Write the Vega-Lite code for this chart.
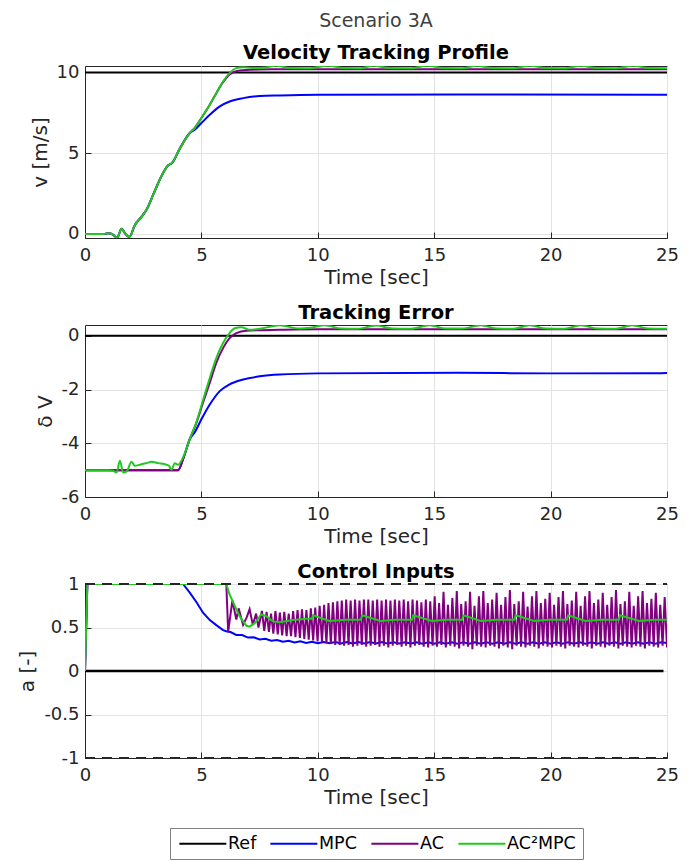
{
"$schema": "https://vega.github.io/schema/vega-lite/v6.json",
"padding": {"left": 17, "top": 12, "right": 5, "bottom": 0},
"background": "white",
"title": {"text": "Scenario 3A", "fontSize": 19, "fontWeight": "normal", "color": "#404040", "anchor": "middle", "frame": "group", "offset": 11},
"spacing": 87,
"bounds": "flush",
"resolve": {"scale": {"color": "independent"}, "legend": {"color": "independent"}},
"datasets": {
"p1_ref": [{"t":0,"y":10},{"t":25,"y":10}],
"p1_mpc": [{"t":0,"y":0},{"t":0.8,"y":0},{"t":1.0,"y":0.04},{"t":1.2,"y":-0.04},{"t":1.38,"y":-0.25},{"t":1.57,"y":0.33},{"t":1.71,"y":0.06},{"t":1.9,"y":-0.19},{"t":2.14,"y":0.54},{"t":2.5,"y":1.2},{"t":2.64,"y":1.5},{"t":2.93,"y":2.43},{"t":3.21,"y":3.36},{"t":3.53,"y":4.19},{"t":3.76,"y":4.43},{"t":4.07,"y":5.28},{"t":4.5,"y":6.25},{"t":4.71,"y":6.45},{"t":5.0,"y":6.87},{"t":5.36,"y":7.38},{"t":5.79,"y":7.9},{"t":6.21,"y":8.2},{"t":6.79,"y":8.41},{"t":7.5,"y":8.54},{"t":8.36,"y":8.58},{"t":10,"y":8.62},{"t":16,"y":8.63},{"t":25,"y":8.62}],
"p1_ac": [{"t":0,"y":0},{"t":0.8,"y":0},{"t":1.0,"y":0.04},{"t":1.2,"y":-0.04},{"t":1.38,"y":-0.25},{"t":1.57,"y":0.33},{"t":1.71,"y":0.06},{"t":1.9,"y":-0.19},{"t":2.14,"y":0.54},{"t":2.5,"y":1.2},{"t":2.64,"y":1.5},{"t":2.93,"y":2.43},{"t":3.21,"y":3.36},{"t":3.53,"y":4.19},{"t":3.76,"y":4.43},{"t":4.07,"y":5.28},{"t":4.5,"y":6.25},{"t":4.71,"y":6.56},{"t":5.0,"y":7.18},{"t":5.36,"y":8.0},{"t":5.64,"y":8.72},{"t":5.93,"y":9.4},{"t":6.21,"y":9.88},{"t":6.5,"y":10.08},{"t":6.79,"y":10.14},{"t":7.2,"y":10.17},{"t":8,"y":10.2},{"t":25,"y":10.2}],
"p1_acm": [{"t":0,"y":0},{"t":0.8,"y":0},{"t":1.0,"y":0.04},{"t":1.2,"y":-0.04},{"t":1.38,"y":-0.25},{"t":1.57,"y":0.33},{"t":1.71,"y":0.06},{"t":1.9,"y":-0.19},{"t":2.14,"y":0.54},{"t":2.5,"y":1.2},{"t":2.64,"y":1.5},{"t":2.93,"y":2.43},{"t":3.21,"y":3.36},{"t":3.53,"y":4.19},{"t":3.76,"y":4.43},{"t":4.07,"y":5.28},{"t":4.5,"y":6.25},{"t":4.71,"y":6.56},{"t":5.0,"y":7.18},{"t":5.36,"y":8.0},{"t":5.64,"y":8.72},{"t":5.93,"y":9.44},{"t":6.21,"y":9.96},{"t":6.5,"y":10.27},{"t":6.79,"y":10.33},{"t":7.21,"y":10.27},{"t":7.79,"y":10.31},{"t":8.2,"y":10.42},{"t":8.8,"y":10.27},{"t":9.6,"y":10.26},{"t":10.45,"y":10.42},{"t":11.1,"y":10.27},{"t":11.8,"y":10.26},{"t":12.4,"y":10.41},{"t":13.1,"y":10.27},{"t":14.0,"y":10.26},{"t":14.7,"y":10.42},{"t":15.4,"y":10.27},{"t":16.2,"y":10.26},{"t":16.85,"y":10.41},{"t":17.5,"y":10.27},{"t":18.4,"y":10.26},{"t":19.1,"y":10.42},{"t":19.8,"y":10.27},{"t":20.6,"y":10.26},{"t":21.3,"y":10.41},{"t":22.0,"y":10.27},{"t":22.8,"y":10.26},{"t":23.55,"y":10.42},{"t":24.2,"y":10.27},{"t":25,"y":10.26}],
"p2_ref": [{"t":0,"y":0},{"t":25,"y":0}],
"p2_mpc": [{"t":0,"y":-5},{"t":4.0,"y":-5},{"t":4.21,"y":-4.6},{"t":4.5,"y":-3.85},{"t":4.71,"y":-3.6},{"t":5.0,"y":-3.11},{"t":5.36,"y":-2.56},{"t":5.79,"y":-2.06},{"t":6.21,"y":-1.81},{"t":6.79,"y":-1.63},{"t":7.5,"y":-1.51},{"t":8.36,"y":-1.44},{"t":10,"y":-1.4},{"t":16,"y":-1.38},{"t":20,"y":-1.4},{"t":25,"y":-1.39}],
"p2_ac": [{"t":0,"y":-5},{"t":4.0,"y":-5},{"t":4.21,"y":-4.6},{"t":4.5,"y":-3.85},{"t":4.79,"y":-3.23},{"t":5.07,"y":-2.49},{"t":5.36,"y":-1.75},{"t":5.64,"y":-1.01},{"t":5.93,"y":-0.46},{"t":6.21,"y":-0.09},{"t":6.5,"y":0.1},{"t":6.93,"y":0.19},{"t":8.36,"y":0.22},{"t":10,"y":0.24},{"t":25,"y":0.24}],
"p2_acm": [{"t":0,"y":-5},{"t":1.0,"y":-5},{"t":1.2,"y":-5.02},{"t":1.36,"y":-5.09},{"t":1.5,"y":-4.65},{"t":1.64,"y":-5.09},{"t":1.79,"y":-5.05},{"t":2.0,"y":-4.69},{"t":2.14,"y":-4.84},{"t":2.36,"y":-4.8},{"t":2.64,"y":-4.74},{"t":2.86,"y":-4.69},{"t":3.14,"y":-4.74},{"t":3.43,"y":-4.78},{"t":3.61,"y":-4.84},{"t":3.71,"y":-4.99},{"t":3.86,"y":-4.74},{"t":4.0,"y":-4.8},{"t":4.21,"y":-4.53},{"t":4.5,"y":-3.85},{"t":4.79,"y":-3.2},{"t":5.07,"y":-2.4},{"t":5.36,"y":-1.57},{"t":5.64,"y":-0.83},{"t":5.93,"y":-0.27},{"t":6.21,"y":0.1},{"t":6.43,"y":0.28},{"t":6.71,"y":0.32},{"t":7.07,"y":0.22},{"t":7.64,"y":0.28},{"t":8.36,"y":0.39},{"t":9.2,"y":0.27},{"t":9.7,"y":0.3},{"t":10.3,"y":0.39},{"t":11.0,"y":0.27},{"t":11.7,"y":0.26},{"t":12.5,"y":0.38},{"t":13.2,"y":0.27},{"t":14.0,"y":0.26},{"t":14.8,"y":0.39},{"t":15.5,"y":0.27},{"t":16.2,"y":0.27},{"t":17.0,"y":0.39},{"t":17.7,"y":0.27},{"t":18.4,"y":0.26},{"t":19.1,"y":0.39},{"t":19.8,"y":0.27},{"t":20.6,"y":0.26},{"t":21.3,"y":0.39},{"t":22.0,"y":0.27},{"t":22.8,"y":0.26},{"t":23.5,"y":0.39},{"t":24.2,"y":0.27},{"t":25,"y":0.26}],
"p3_ref": [{"t":0,"y":0},{"t":24.85,"y":0}],
"p3_bounds": [{"t":0,"y":1,"g":"upper"},{"t":25,"y":1,"g":"upper"},{"t":0,"y":-1,"g":"lower"},{"t":25,"y":-1,"g":"lower"}],
"p3_mpc": [{"t":0,"y":0},{"t":0.1,"y":1},{"t":4.21,"y":1},{"t":4.5,"y":0.9},{"t":4.79,"y":0.79},{"t":5.07,"y":0.67},{"t":5.36,"y":0.585},{"t":5.64,"y":0.527},{"t":5.93,"y":0.47},{"t":6.1,"y":0.455},{"t":6.25,"y":0.448},{"t":6.5,"y":0.414},{"t":6.75,"y":0.413},{"t":7.0,"y":0.384},{"t":7.25,"y":0.388},{"t":7.5,"y":0.362},{"t":7.75,"y":0.37},{"t":8.0,"y":0.347},{"t":8.25,"y":0.357},{"t":8.5,"y":0.336},{"t":8.75,"y":0.348},{"t":9.0,"y":0.328},{"t":9.25,"y":0.341},{"t":9.5,"y":0.322},{"t":9.75,"y":0.336},{"t":10.0,"y":0.318},{"t":10.25,"y":0.334},{"t":10.5,"y":0.318},{"t":10.75,"y":0.334},{"t":11.0,"y":0.317},{"t":11.25,"y":0.333},{"t":11.5,"y":0.317},{"t":11.75,"y":0.333},{"t":12.0,"y":0.316},{"t":12.25,"y":0.332},{"t":12.5,"y":0.316},{"t":12.75,"y":0.332},{"t":13.0,"y":0.315},{"t":13.25,"y":0.331},{"t":13.5,"y":0.315},{"t":13.75,"y":0.331},{"t":14.0,"y":0.315},{"t":14.25,"y":0.331},{"t":14.5,"y":0.314},{"t":14.75,"y":0.33},{"t":15.0,"y":0.314},{"t":15.25,"y":0.33},{"t":15.5,"y":0.314},{"t":15.75,"y":0.33},{"t":16.0,"y":0.314},{"t":16.25,"y":0.33},{"t":16.5,"y":0.314},{"t":16.75,"y":0.33},{"t":17.0,"y":0.314},{"t":17.25,"y":0.33},{"t":17.5,"y":0.314},{"t":17.75,"y":0.33},{"t":18.0,"y":0.314},{"t":18.25,"y":0.33},{"t":18.5,"y":0.314},{"t":18.75,"y":0.33},{"t":19.0,"y":0.314},{"t":19.25,"y":0.33},{"t":19.5,"y":0.314},{"t":19.75,"y":0.33},{"t":20.0,"y":0.314},{"t":20.25,"y":0.33},{"t":20.5,"y":0.314},{"t":20.75,"y":0.33},{"t":21.0,"y":0.314},{"t":21.25,"y":0.33},{"t":21.5,"y":0.314},{"t":21.75,"y":0.33},{"t":22.0,"y":0.314},{"t":22.25,"y":0.33},{"t":22.5,"y":0.314},{"t":22.75,"y":0.33},{"t":23.0,"y":0.314},{"t":23.25,"y":0.33},{"t":23.5,"y":0.314},{"t":23.75,"y":0.33},{"t":24.0,"y":0.314},{"t":24.25,"y":0.33},{"t":24.5,"y":0.314},{"t":24.75,"y":0.33},{"t":25.0,"y":0.322}],
"p3_ac": [{"t":0,"y":0},{"t":0.1,"y":1},{"t":6.07,"y":1},{"t":6.15,"y":0.45},{"t":6.33,"y":0.81},{"t":6.5,"y":0.59},{"t":6.6,"y":0.72},{"t":6.79,"y":0.53},{"t":6.95,"y":0.62},{"t":7.07,"y":0.71},{"t":7.21,"y":0.53},{"t":7.35,"y":0.66},{"t":7.45,"y":0.5},{"t":7.6,"y":0.69},{"t":7.7,"y":0.46},
{"t":7.80,"y":0.68},{"t":7.90,"y":0.45},{"t":7.99,"y":0.66},{"t":8.09,"y":0.43},{"t":8.18,"y":0.69},{"t":8.28,"y":0.42},{"t":8.37,"y":0.67},{"t":8.47,"y":0.41},{"t":8.56,"y":0.68},{"t":8.66,"y":0.40},{"t":8.75,"y":0.66},{"t":8.85,"y":0.40},{"t":8.94,"y":0.69},{"t":9.04,"y":0.39},{"t":9.13,"y":0.70},{"t":9.23,"y":0.38},{"t":9.32,"y":0.71},{"t":9.42,"y":0.37},{"t":9.51,"y":0.70},{"t":9.61,"y":0.36},{"t":9.70,"y":0.72},{"t":9.80,"y":0.35},{"t":9.89,"y":0.73},{"t":9.99,"y":0.34},{"t":10.08,"y":0.75},{"t":10.18,"y":0.33},{"t":10.27,"y":0.76},{"t":10.37,"y":0.32},{"t":10.46,"y":0.78},{"t":10.56,"y":0.31},{"t":10.65,"y":0.79},{"t":10.75,"y":0.30},{"t":10.84,"y":0.80},{"t":10.94,"y":0.30},{"t":11.03,"y":0.81},{"t":11.13,"y":0.29},{"t":11.22,"y":0.82},{"t":11.32,"y":0.30},{"t":11.41,"y":0.81},{"t":11.51,"y":0.28},{"t":11.60,"y":0.82},{"t":11.70,"y":0.29},{"t":11.79,"y":0.81},{"t":11.89,"y":0.30},{"t":11.98,"y":0.82},{"t":12.08,"y":0.28},{"t":12.17,"y":0.82},{"t":12.27,"y":0.29},{"t":12.36,"y":0.81},{"t":12.46,"y":0.30},{"t":12.55,"y":0.82},{"t":12.65,"y":0.28},{"t":12.74,"y":0.81},{"t":12.84,"y":0.29},{"t":12.93,"y":0.82},{"t":13.03,"y":0.27},{"t":13.12,"y":0.81},{"t":13.22,"y":0.29},{"t":13.31,"y":0.82},{"t":13.41,"y":0.30},{"t":13.50,"y":0.81},{"t":13.60,"y":0.28},{"t":13.69,"y":0.82},{"t":13.79,"y":0.29},{"t":13.88,"y":0.80},{"t":13.98,"y":0.27},{"t":14.07,"y":0.82},{"t":14.17,"y":0.29},{"t":14.26,"y":0.81},{"t":14.36,"y":0.30},{"t":14.45,"y":0.79},{"t":14.55,"y":0.28},{"t":14.64,"y":0.82},{"t":14.74,"y":0.27},{"t":14.83,"y":0.80},{"t":14.93,"y":0.29},{"t":15.02,"y":0.86},{"t":15.12,"y":0.28},{"t":15.21,"y":0.78},{"t":15.31,"y":0.30},{"t":15.40,"y":0.91},{"t":15.50,"y":0.27},{"t":15.59,"y":0.76},{"t":15.69,"y":0.29},{"t":15.78,"y":0.84},{"t":15.88,"y":0.28},{"t":15.97,"y":0.92},{"t":16.07,"y":0.26},{"t":16.16,"y":0.77},{"t":16.26,"y":0.29},{"t":16.35,"y":0.80},{"t":16.45,"y":0.28},{"t":16.54,"y":0.91},{"t":16.64,"y":0.25},{"t":16.73,"y":0.75},{"t":16.83,"y":0.29},{"t":16.92,"y":0.86},{"t":17.02,"y":0.28},{"t":17.11,"y":0.92},{"t":17.21,"y":0.27},{"t":17.30,"y":0.78},{"t":17.40,"y":0.29},{"t":17.49,"y":0.82},{"t":17.59,"y":0.28},{"t":17.68,"y":0.90},{"t":17.78,"y":0.26},{"t":17.87,"y":0.76},{"t":17.97,"y":0.29},{"t":18.06,"y":0.85},{"t":18.16,"y":0.27},{"t":18.25,"y":0.93},{"t":18.35,"y":0.25},{"t":18.44,"y":0.77},{"t":18.54,"y":0.29},{"t":18.63,"y":0.80},{"t":18.73,"y":0.28},{"t":18.82,"y":0.91},{"t":18.92,"y":0.27},{"t":19.01,"y":0.74},{"t":19.11,"y":0.29},{"t":19.20,"y":0.86},{"t":19.30,"y":0.28},{"t":19.39,"y":0.92},{"t":19.49,"y":0.26},{"t":19.58,"y":0.78},{"t":19.68,"y":0.29},{"t":19.77,"y":0.83},{"t":19.87,"y":0.28},{"t":19.96,"y":0.90},{"t":20.06,"y":0.27},{"t":20.15,"y":0.76},{"t":20.25,"y":0.29},{"t":20.34,"y":0.85},{"t":20.44,"y":0.28},{"t":20.53,"y":0.92},{"t":20.63,"y":0.26},{"t":20.72,"y":0.77},{"t":20.82,"y":0.29},{"t":20.91,"y":0.81},{"t":21.01,"y":0.28},{"t":21.10,"y":0.91},{"t":21.20,"y":0.27},{"t":21.29,"y":0.75},{"t":21.39,"y":0.29},{"t":21.48,"y":0.86},{"t":21.58,"y":0.28},{"t":21.67,"y":0.92},{"t":21.77,"y":0.26},{"t":21.86,"y":0.78},{"t":21.96,"y":0.29},{"t":22.05,"y":0.82},{"t":22.15,"y":0.28},{"t":22.24,"y":0.90},{"t":22.34,"y":0.27},{"t":22.43,"y":0.76},{"t":22.53,"y":0.29},{"t":22.62,"y":0.85},{"t":22.72,"y":0.28},{"t":22.81,"y":0.93},{"t":22.91,"y":0.26},{"t":23.00,"y":0.77},{"t":23.10,"y":0.29},{"t":23.19,"y":0.80},{"t":23.29,"y":0.28},{"t":23.38,"y":0.91},{"t":23.48,"y":0.27},{"t":23.57,"y":0.75},{"t":23.67,"y":0.29},{"t":23.76,"y":0.86},{"t":23.86,"y":0.28},{"t":23.95,"y":0.92},{"t":24.05,"y":0.26},{"t":24.14,"y":0.78},{"t":24.24,"y":0.29},{"t":24.33,"y":0.83},{"t":24.43,"y":0.28},{"t":24.52,"y":0.90},{"t":24.62,"y":0.27},{"t":24.71,"y":0.76},{"t":24.81,"y":0.29},{"t":24.90,"y":0.85},{"t":25.00,"y":0.27}],
"p3_acm": [{"t":0,"y":0},{"t":0.1,"y":1},{"t":6.07,"y":1},{"t":6.21,"y":0.88},{"t":6.43,"y":0.75},{"t":6.64,"y":0.63},{"t":6.93,"y":0.52},{"t":7.07,"y":0.51},{"t":7.29,"y":0.55},{"t":7.57,"y":0.65},{"t":7.79,"y":0.63},{"t":8.07,"y":0.57},{"t":8.36,"y":0.56},{"t":8.93,"y":0.585},{"t":9.5,"y":0.6},{"t":9.74,"y":0.6},{"t":9.8,"y":0.64},{"t":10.5,"y":0.575},{"t":11.2,"y":0.59},{"t":11.85,"y":0.59},{"t":11.9,"y":0.64},{"t":12.7,"y":0.575},{"t":13.3,"y":0.59},{"t":14.05,"y":0.59},{"t":14.1,"y":0.64},{"t":14.9,"y":0.575},{"t":15.5,"y":0.59},{"t":16.2,"y":0.59},{"t":16.25,"y":0.64},{"t":17.0,"y":0.575},{"t":17.7,"y":0.59},{"t":18.45,"y":0.59},{"t":18.5,"y":0.64},{"t":19.3,"y":0.575},{"t":19.9,"y":0.59},{"t":20.7,"y":0.59},{"t":20.76,"y":0.64},{"t":21.5,"y":0.575},{"t":22.2,"y":0.59},{"t":22.93,"y":0.59},{"t":22.98,"y":0.64},{"t":23.8,"y":0.575},{"t":24.4,"y":0.59},{"t":25,"y":0.59}]
},
"config": {
"font": "DejaVu Sans",
"view": {"stroke": "#262626", "strokeWidth": 1},
"axis": {"labelFont": "DejaVu Sans", "labelFontSize": 18, "labelColor": "#262626", "titleFont": "DejaVu Sans", "titleFontSize": 20, "titleFontWeight": "normal", "titleColor": "#262626", "domainColor": "#262626", "domainWidth": 1, "tickColor": "#262626", "tickSize": -6, "labelPadding": 12, "gridColor": "#e3e3e3", "gridWidth": 1, "titlePadding": 6, "labelFlush": false, "labelOverlap": false, "grid": true},
"axisX": {"labelPadding": 14, "titlePadding": 3},
"title": {"font": "DejaVu Sans", "fontSize": 19.5, "fontWeight": "bold", "color": "#000000"},
"legend": {"orient": "none", "legendX": 85, "legendY": 244, "direction": "horizontal", "symbolType": "M-1,0H7", "symbolSize": 138, "symbolStrokeWidth": 2, "labelFont": "DejaVu Sans", "labelFontSize": 17.5, "labelColor": "#000000", "labelOffset": 34, "columnPadding": 9, "padding": 6.5, "strokeColor": "#808080", "fillColor": "white"}
},
"vconcat": [
{
"width": 582, "height": 172,
"title": {"text": "Velocity Tracking Profile", "offset": 0},
"encoding": {
"x": {"field": "t", "type": "quantitative", "scale": {"domain": [0, 25], "nice": false}, "axis": {"values": [0, 5, 10, 15, 20, 25], "title": "Time [sec]"}},
"y": {"field": "y", "type": "quantitative", "scale": {"domain": [-0.25, 10.4], "nice": false, "zero": false}, "axis": {"values": [0, 5, 10], "title": "v [m/s]"}}
},
"layer": [
{"data": {"name": "p1_ref"}, "mark": {"type": "line", "strokeWidth": 2, "clip": true}, "encoding": {"color": {"datum": "Ref", "scale": {"domain": ["Ref", "MPC", "AC", "AC²MPC"], "range": ["#000000", "#0000ff", "#800080", "#20c820"]}, "legend": null}}},
{"data": {"name": "p1_mpc"}, "mark": {"type": "line", "strokeWidth": 2, "clip": true, "interpolate": "monotone"}, "encoding": {"color": {"datum": "MPC", "legend": null}}},
{"data": {"name": "p1_ac"}, "mark": {"type": "line", "strokeWidth": 2, "clip": true, "interpolate": "monotone"}, "encoding": {"color": {"datum": "AC", "legend": null}}},
{"data": {"name": "p1_acm"}, "mark": {"type": "line", "strokeWidth": 2, "clip": true, "interpolate": "monotone"}, "encoding": {"color": {"datum": "AC²MPC", "legend": null}}}
]
},
{
"width": 582, "height": 172,
"title": {"text": "Tracking Error", "offset": 2},
"encoding": {
"x": {"field": "t", "type": "quantitative", "scale": {"domain": [0, 25], "nice": false}, "axis": {"values": [0, 5, 10, 15, 20, 25], "title": "Time [sec]"}},
"y": {"field": "y", "type": "quantitative", "scale": {"domain": [-6, 0.4], "nice": false, "zero": false}, "axis": {"values": [-6, -4, -2, 0], "title": "δ V", "labelExpr": "replace(datum.label, '\u2212', '-')"}}
},
"layer": [
{"data": {"name": "p2_ref"}, "mark": {"type": "line", "strokeWidth": 2, "clip": true}, "encoding": {"color": {"datum": "Ref", "scale": {"domain": ["Ref", "MPC", "AC", "AC²MPC"], "range": ["#000000", "#0000ff", "#800080", "#20c820"]}, "legend": null}}},
{"data": {"name": "p2_mpc"}, "mark": {"type": "line", "strokeWidth": 2, "clip": true, "interpolate": "monotone"}, "encoding": {"color": {"datum": "MPC", "legend": null}}},
{"data": {"name": "p2_ac"}, "mark": {"type": "line", "strokeWidth": 2, "clip": true, "interpolate": "monotone"}, "encoding": {"color": {"datum": "AC", "legend": null}}},
{"data": {"name": "p2_acm"}, "mark": {"type": "line", "strokeWidth": 2, "clip": true, "interpolate": "monotone"}, "encoding": {"color": {"datum": "AC²MPC", "legend": null}}}
]
},
{
"width": 582, "height": 174,
"title": {"text": "Control Inputs", "offset": -7},
"encoding": {
"x": {"field": "t", "type": "quantitative", "scale": {"domain": [0, 25], "nice": false}, "axis": {"values": [0, 5, 10, 15, 20, 25], "title": "Time [sec]"}},
"y": {"field": "y", "type": "quantitative", "scale": {"domain": [-1, 1], "nice": false, "zero": false}, "axis": {"values": [-1, -0.5, 0, 0.5, 1], "format": "~g", "title": "a [-]", "labelExpr": "replace(datum.label, '\u2212', '-')"}}
},
"layer": [
{"data": {"name": "p3_ref"}, "mark": {"type": "line", "strokeWidth": 2.5, "clip": true}, "encoding": {"color": {"datum": "Ref", "scale": {"domain": ["Ref", "MPC", "AC", "AC²MPC"], "range": ["#000000", "#0000ff", "#800080", "#20c820"]}, "legend": {"title": null}}}},
{"data": {"name": "p3_mpc"}, "mark": {"type": "line", "strokeWidth": 2, "clip": true}, "encoding": {"color": {"datum": "MPC", "legend": {"title": null}}}},
{"data": {"name": "p3_ac"}, "mark": {"type": "line", "strokeWidth": 2, "clip": true}, "encoding": {"color": {"datum": "AC", "legend": {"title": null}}}},
{"data": {"name": "p3_acm"}, "mark": {"type": "line", "strokeWidth": 2, "clip": true}, "encoding": {"color": {"datum": "AC²MPC", "legend": {"title": null}}}},
{"data": {"name": "p3_bounds"}, "mark": {"type": "line", "strokeWidth": 2, "strokeDash": [10, 7], "color": "#262626", "clip": false}, "encoding": {"detail": {"field": "g"}}}
]
}
]
}
